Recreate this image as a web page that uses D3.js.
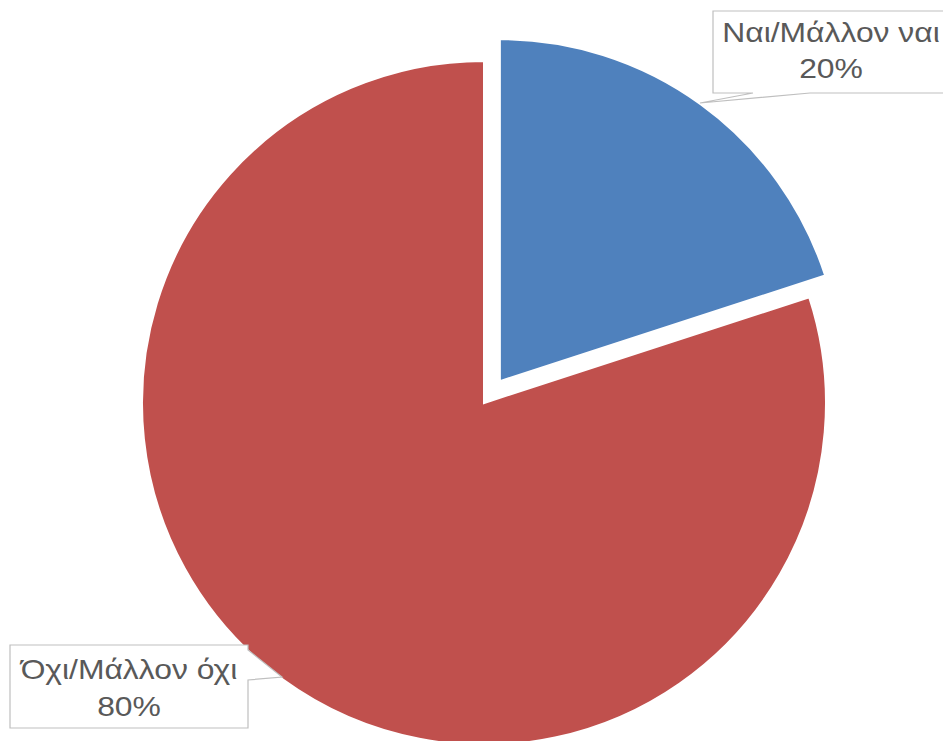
<!DOCTYPE html>
<html>
<head>
<meta charset="utf-8">
<script src="https://cdn.jsdelivr.net/npm/d3@7"></script>
<style>
  body { margin: 0; background: #fff; }
  svg { display: block; }
</style>
</head>
<body>
<div id="chart"></div>
<script>
// data
const categories = ['Ναι/Μάλλον ναι', 'Όχι/Μάλλον όχι'];
const values = [20, 80];
const colors = ['#4F81BD', '#C0504D'];

const width = 943, height = 741;
const cx = 484, cy = 403, radius = 342;
const explode = [27, 0];

const svg = d3.select('#chart')
  .append('svg')
  .attr('width', width)
  .attr('height', height);

const pie = d3.pie().sort(null).value(d => d.value);
const arc = d3.arc().innerRadius(0).outerRadius(radius);

const data = pie(categories.map((c, i) => ({ name: c, value: values[i], i: i })));

const g = svg.append('g').attr('transform', `translate(${cx},${cy})`);

// slices
g.selectAll('path')
  .data(data)
  .join('path')
  .attr('d', arc)
  .attr('fill', d => colors[d.data.i])
  .attr('stroke', '#fff')
  .attr('stroke-width', 2)
  .attr('transform', d => {
    const mid = (d.startAngle + d.endAngle) / 2;
    const off = explode[d.data.i];
    return `translate(${Math.sin(mid) * off},${-Math.cos(mid) * off})`;
  });

// callout labels (box + pointer + baselines)
const callouts = [
  { box: [713, 11, 236, 82], tip: [700, 103], base: 'bottom', b1: 753, b2: 810, lines: [42, 78] },
  { box: [10, 645, 238, 83], tip: [282, 677], base: 'right', b1: 650, b2: 680, lines: [679, 716] }
];

function calloutPath(c) {
  const [x, y, w, h] = c.box;
  const x2 = x + w, y2 = y + h;
  if (c.base === 'bottom') {
    return `M${x},${y}H${x2}V${y2}H${c.b2}L${c.tip[0]},${c.tip[1]}L${c.b1},${y2}H${x}Z`;
  }
  return `M${x},${y}H${x2}V${c.b1}L${c.tip[0]},${c.tip[1]}L${x2},${c.b2}V${y2}H${x}Z`;
}

const labels = svg.selectAll('g.label')
  .data(data)
  .join('g')
  .attr('class', 'label');

labels.append('path')
  .attr('d', d => calloutPath(callouts[d.data.i]))
  .attr('fill', '#fff')
  .attr('stroke', '#bfbfbf')
  .attr('stroke-width', 1.2);

const total = d3.sum(values);
const txt = labels.append('text')
  .attr('text-anchor', 'middle')
  .attr('transform', d => {
    const c = callouts[d.data.i];
    return `translate(${c.box[0] + c.box[2] / 2},0) scale(1.18,1)`;
  })
  .style('font-family', 'Liberation Sans, Arial, sans-serif')
  .style('font-size', '27px')
  .style('fill', '#595959');

txt.append('tspan')
  .attr('x', 0)
  .attr('y', d => callouts[d.data.i].lines[0])
  .text(d => d.data.name);

txt.append('tspan')
  .attr('x', 0)
  .attr('y', d => callouts[d.data.i].lines[1])
  .text(d => d3.format('.0%')(d.data.value / total));
</script>
</body>
</html>
